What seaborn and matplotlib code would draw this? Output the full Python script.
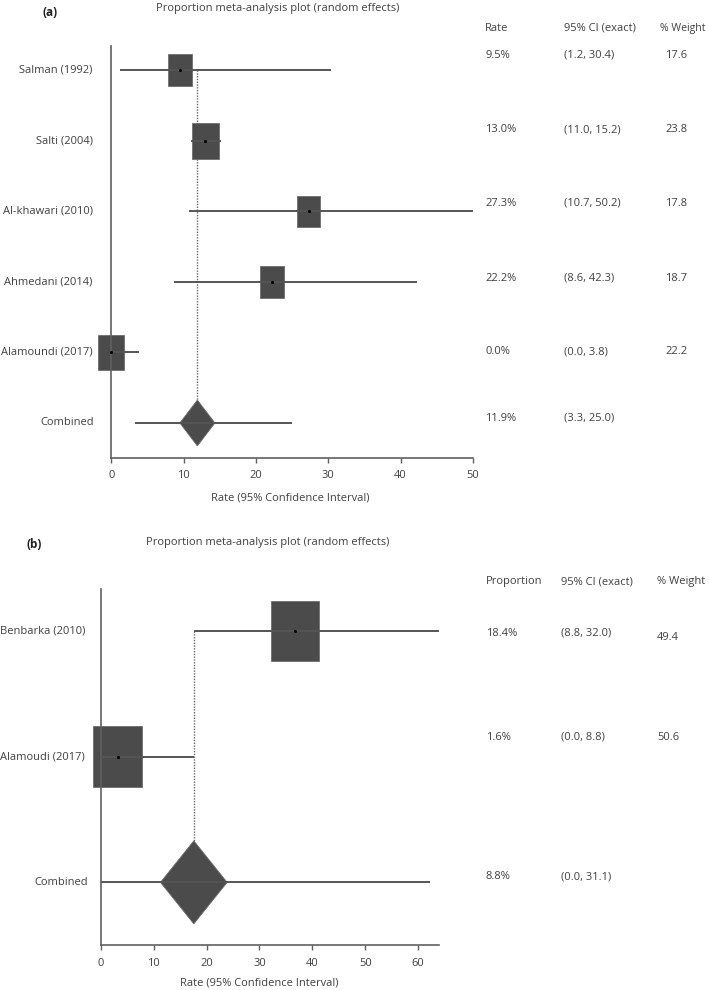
import matplotlib
matplotlib.use("Agg")
import matplotlib.pyplot as plt
import seaborn as sns
import numpy as np
from matplotlib.patches import Rectangle, Polygon

# ---------------- data: panel (a) ----------------
a_studies = ["Salman (1992)", "Salti (2004)", "Al-khawari (2010)",
             "Ahmedani (2014)", "Alamoundi (2017)"]
a_rate = [9.5, 13.0, 27.3, 22.2, 0.0]
a_lo = [1.2, 11.0, 10.7, 8.6, 0.0]
a_hi = [30.4, 15.2, 50.2, 42.3, 3.8]
a_weight = [17.6, 23.8, 17.8, 18.7, 22.2]
a_comb = 11.9
a_comb_lo = 3.3
a_comb_hi = 25.0
a_ticks = [0, 10, 20, 30, 40, 50]

# ---------------- data: panel (b) ----------------
b_studies = ["Benbarka (2010)", "Alamoudi (2017)"]
b_prop = [18.4, 1.6]
b_lo = [8.8, 0.0]
b_hi = [32.0, 8.8]
b_weight = [49.4, 50.6]
b_comb = 8.8
b_comb_lo = 0.0
b_comb_hi = 31.1
# positions of the marks as drawn in panel (b)
b_plot_est = [36.8, 3.2]
b_plot_lo = [17.6, 0.0]
b_plot_hi = [64.0, 17.6]
b_plot_comb = 17.6
b_plot_comb_lo = 0.0
b_plot_comb_hi = 62.2
b_ticks = [0, 10, 20, 30, 40, 50, 60]

# ---------------- style ----------------
sns.set_theme(style="white")
plt.rcParams['font.family'] = ['Open Sans', 'DejaVu Sans']
TXT = '#404040'
BOX = '#4b4b4b'
LINE = '#555555'
SPINE = '#606060'
FS = 8

W, H = 709, 990
fig = plt.figure(figsize=(W / 100, H / 100), dpi=100)


def fx(px):
    return px / W


def fy(py):
    return 1 - py / H


def forest(left, right, top, bottom, labels, est, lo, hi, wts,
           c_est, c_lo, c_hi, xmax, ticks, ytop, ybot,
           box_w, box_h, dia_w, dia_h, lab_right, comb_right):
    ax = fig.add_axes([fx(left), fy(bottom), (right - left) / W, (bottom - top) / H])
    n = len(labels)
    rows = list(range(n))
    crow = n
    ax.set_xlim(0, xmax)
    ax.set_ylim(ybot, ytop)
    # reference line
    ax.vlines(c_est, 0, crow - dia_h, color='#686868', linestyle=(0, (1, 1)),
              lw=1.0, zorder=1)
    # study boxes
    for i in rows:
        s = np.sqrt(wts[i])
        ax.add_patch(Rectangle((est[i] - box_w * s, i - box_h * s),
                               2 * box_w * s, 2 * box_h * s, facecolor=BOX,
                               edgecolor='#6e6e6e', lw=0.6, zorder=2, clip_on=False))
    # CI lines
    ax.hlines(rows, lo, hi, color=LINE, lw=1.4, zorder=3)
    sns.scatterplot(x=est, y=rows, ax=ax, color='black', s=5, linewidth=0,
                    zorder=4, legend=False, clip_on=False)
    # combined diamond
    ax.add_patch(Polygon([(c_est - dia_w, crow), (c_est, crow - dia_h),
                          (c_est + dia_w, crow), (c_est, crow + dia_h)],
                         closed=True, facecolor=BOX, edgecolor='#6e6e6e',
                         lw=0.6, zorder=2, clip_on=False))
    ax.hlines(crow, c_lo, c_hi, color=LINE, lw=1.4, zorder=3)

    # axes styling
    for sp in ['top', 'right']:
        ax.spines[sp].set_visible(False)
    for sp in ['left', 'bottom']:
        ax.spines[sp].set_color(SPINE)
        ax.spines[sp].set_linewidth(1.2)
    ax.set_xticks(ticks)
    ax.set_xticklabels([str(t) for t in ticks])
    ax.tick_params(axis='x', direction='out', length=3.5, width=1, color=SPINE,
                   labelsize=FS, labelcolor=TXT, pad=5.5, bottom=True)
    ax.set_yticks([])
    # row labels
    tr = ax.get_yaxis_transform()
    axw = right - left
    for i, lab in enumerate(labels):
        ax.text((lab_right - left) / axw, i, lab, transform=tr, ha='right',
                va='center', fontsize=FS, color=TXT)
    ax.text((comb_right - left) / axw, crow, "Combined", transform=tr,
            ha='right', va='center', fontsize=FS, color=TXT)
    ax.grid(False)
    return ax


# ---------------- panel (a) ----------------
forest(111.3, 473.0, 46.0, 458.0, a_studies, a_rate, a_lo, a_hi, a_weight,
       a_comb, a_comb_lo, a_comb_hi, 50, a_ticks, -0.34, 5.496,
       box_w=0.38, box_h=0.0524, dia_w=2.42, dia_h=0.325,
       lab_right=92.6, comb_right=94.0)

fig.text(fx(50.5), fy(13), "(a)", ha='center', va='center', fontsize=FS + 0.5,
         fontweight='bold', color='#202020')
fig.text(fx(156), fy(8.5), "Proportion meta-analysis plot (random effects)",
         ha='left', va='center', fontsize=FS, color=TXT)
fig.text(fx(290), fy(497.7), "Rate (95% Confidence Interval)", ha='center',
         va='center', fontsize=FS, color=TXT)

a_cols = [485, 564, 660]
a_head_y = 28.3
a_row_y = [55, 130, 203.3, 278.3, 351.7]
a_comb_y = 418.3
for x, h in zip(a_cols, ["Rate", "95% CI (exact)", "% Weight"]):
    fig.text(fx(x), fy(a_head_y), h, ha='left', va='center',
             fontsize=(7.6 if h.startswith('%') else FS), color=TXT)
for y, r, l, u, w in zip(a_row_y, a_rate, a_lo, a_hi, a_weight):
    fig.text(fx(a_cols[0]), fy(y), f"{r:.1f}%", ha='left', va='center', fontsize=FS, color=TXT)
    fig.text(fx(a_cols[1]), fy(y), f"({l:.1f}, {u:.1f})", ha='left', va='center', fontsize=FS, color=TXT)
    fig.text(fx(665), fy(y), f"{w:.1f}", ha='left', va='center', fontsize=FS, color=TXT)
fig.text(fx(a_cols[0]), fy(a_comb_y), f"{a_comb:.1f}%", ha='left', va='center', fontsize=FS, color=TXT)
fig.text(fx(a_cols[1]), fy(a_comb_y), f"({a_comb_lo:.1f}, {a_comb_hi:.1f})", ha='left',
         va='center', fontsize=FS, color=TXT)

# ---------------- panel (b) ----------------
forest(100.7, 439.3, 589.3, 945.0, b_studies, b_plot_est, b_plot_lo, b_plot_hi,
       b_weight, b_plot_comb, b_plot_comb_lo, b_plot_comb_hi, 64, b_ticks,
       -0.33, 2.498, box_w=0.645, box_h=0.0339, dia_w=6.3, dia_h=0.33,
       lab_right=85.0, comb_right=88.3)

fig.text(fx(34), fy(545), "(b)", ha='center', va='center', fontsize=FS + 0.5,
         fontweight='bold', color='#202020')
fig.text(fx(146), fy(543), "Proportion meta-analysis plot (random effects)",
         ha='left', va='center', fontsize=FS, color=TXT)
fig.text(fx(259), fy(982.7), "Rate (95% Confidence Interval)", ha='center',
         va='center', fontsize=FS, color=TXT)

b_cols = [485.7, 560.7, 657.3]
b_head_y = 581.7
b_row_y = [633.3, 737.3]
b_w_y = [638.0, 737.3]
b_comb_y = 876.7
for x, h in zip(b_cols, ["Proportion", "95% CI (exact)", "% Weight"]):
    fig.text(fx(x), fy(b_head_y), h, ha='left', va='center', fontsize=FS, color=TXT)
for y, yw, r, l, u, w in zip(b_row_y, b_w_y, b_prop, b_lo, b_hi, b_weight):
    fig.text(fx(b_cols[0]), fy(y), f"{r:.1f}%", ha='left', va='center', fontsize=FS, color=TXT)
    fig.text(fx(b_cols[1]), fy(y), f"({l:.1f}, {u:.1f})", ha='left', va='center', fontsize=FS, color=TXT)
    fig.text(fx(b_cols[2]), fy(yw), f"{w:.1f}", ha='left', va='center', fontsize=FS, color=TXT)
fig.text(fx(b_cols[0]), fy(b_comb_y), f"{b_comb:.1f}%", ha='left', va='center', fontsize=FS, color=TXT)
fig.text(fx(b_cols[1]), fy(b_comb_y), f"({b_comb_lo:.1f}, {b_comb_hi:.1f})", ha='left',
         va='center', fontsize=FS, color=TXT)

fig.savefig("out.png", dpi=100, facecolor='white')
